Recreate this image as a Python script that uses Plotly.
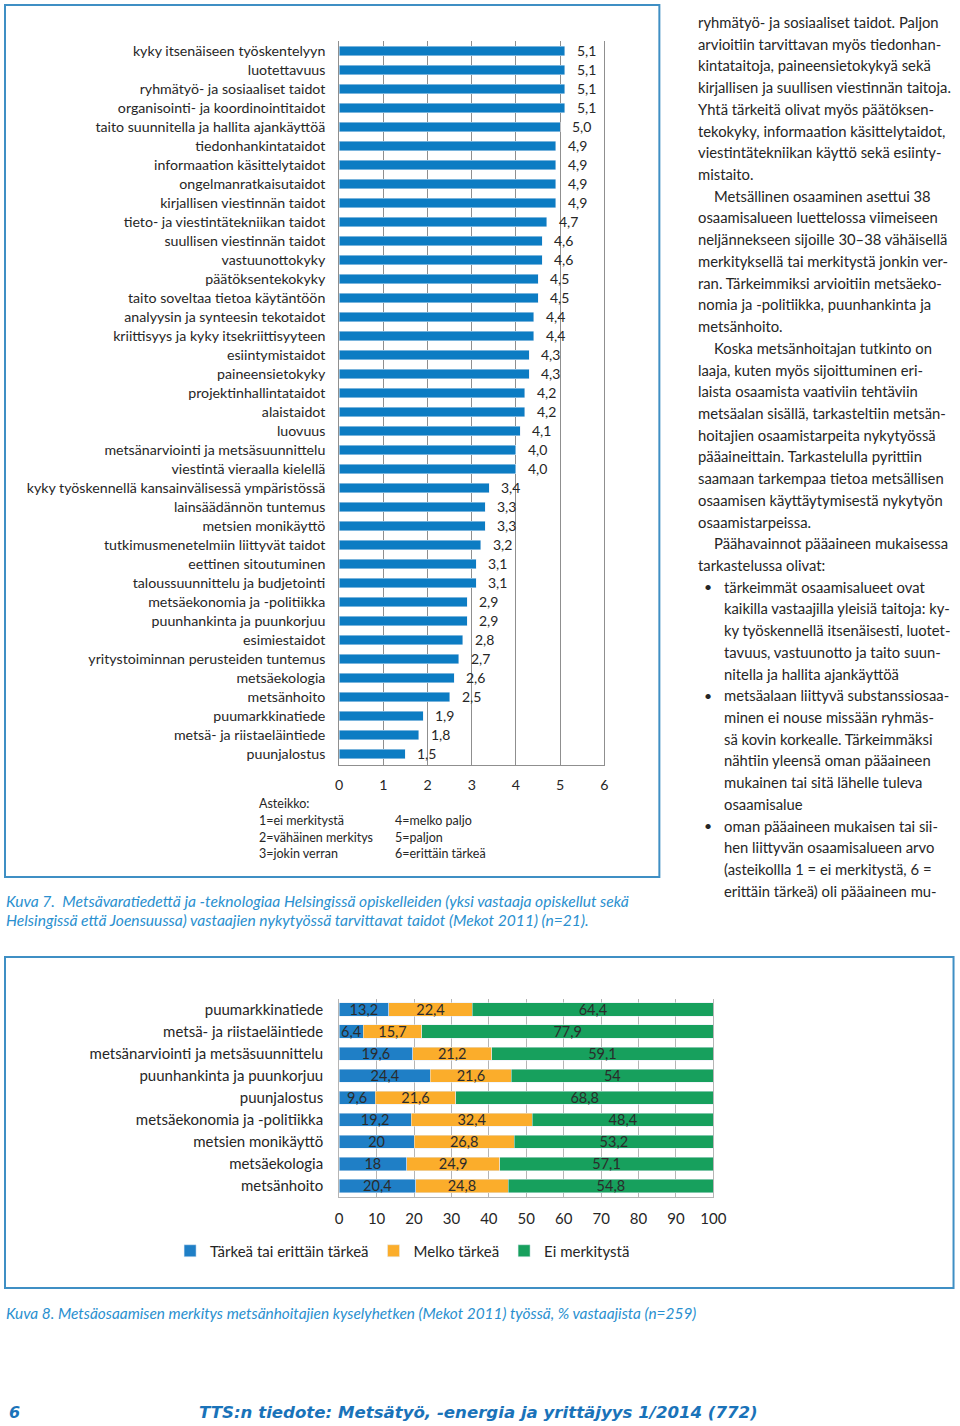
import plotly.graph_objects as go

# Page geometry: body margin removed in post_script; the capture maps page x
# as 0.982*x + 4, so positions measured on the reference are converted back.
SX, OX = 0.982, 4.0
W, H = 974, 1426
def fx(px):
    return min(max((px - OX) / SX / W, 0.0), 1.0)
def fy(py):
    return min(max(1 - py / H, 0.0), 1.0)

# ---------------- data: Kuva 7 ----------------
skills = [
    "kyky itsenäiseen työskentelyyn", "luotettavuus", "ryhmätyö- ja sosiaaliset taidot",
    "organisointi- ja koordinointitaidot", "taito suunnitella ja hallita ajankäyttöä",
    "tiedonhankintataidot", "informaation käsittelytaidot", "ongelmanratkaisutaidot",
    "kirjallisen viestinnän taidot", "tieto- ja viestintätekniikan taidot",
    "suullisen viestinnän taidot", "vastuunottokyky", "päätöksentekokyky",
    "taito soveltaa tietoa käytäntöön", "analyysin ja synteesin tekotaidot",
    "kriittisyys ja kyky itsekriittisyyteen", "esiintymistaidot", "paineensietokyky",
    "projektinhallintataidot", "alaistaidot", "luovuus",
    "metsänarviointi ja metsäsuunnittelu", "viestintä vieraalla kielellä",
    "kyky työskennellä kansainvälisessä ympäristössä", "lainsäädännön tuntemus",
    "metsien monikäyttö", "tutkimusmenetelmiin liittyvät taidot", "eettinen sitoutuminen",
    "taloussuunnittelu ja budjetointi", "metsäekonomia ja -politiikka",
    "puunhankinta ja puunkorjuu", "esimiestaidot", "yritystoiminnan perusteiden tuntemus",
    "metsäekologia", "metsänhoito", "puumarkkinatiede", "metsä- ja riistaeläintiede",
    "puunjalostus",
]
skill_values = [5.1, 5.1, 5.1, 5.1, 5.0, 4.9, 4.9, 4.9, 4.9, 4.7, 4.6, 4.6, 4.5, 4.5,
                4.4, 4.4, 4.3, 4.3, 4.2, 4.2, 4.1, 4.0, 4.0, 3.4, 3.3, 3.3, 3.2, 3.1,
                3.1, 2.9, 2.9, 2.8, 2.7, 2.6, 2.5, 1.9, 1.8, 1.5]
top_ticks = [0, 1, 2, 3, 4, 5, 6]

# ---------------- data: Kuva 8 ----------------
areas = ["puumarkkinatiede", "metsä- ja riistaeläintiede", "metsänarviointi ja metsäsuunnittelu",
         "puunhankinta ja puunkorjuu", "puunjalostus", "metsäekonomia ja -politiikka",
         "metsien monikäyttö", "metsäekologia", "metsänhoito"]
important = [13.2, 6.4, 19.6, 24.4, 9.6, 19.2, 20, 18, 20.4]
fairly = [22.4, 15.7, 21.2, 21.6, 21.6, 32.4, 26.8, 24.9, 24.8]
none_ = [64.4, 77.9, 59.1, 54, 68.8, 48.4, 53.2, 57.1, 54.8]
series_names = ["Tärkeä tai erittäin tärkeä", "Melko tärkeä", "Ei merkitystä"]
bottom_ticks = [0, 10, 20, 30, 40, 50, 60, 70, 80, 90, 100]

scale_left = ["1=ei merkitystä", "2=vähäinen merkitys", "3=jokin verran"]
scale_right = ["4=melko paljo", "5=paljon", "6=erittäin tärkeä"]

body_lines = [
    (0, "ryhmätyö- ja sosiaaliset taidot. Paljon"),
    (0, "arvioitiin tarvittavan myös tiedonhan-"),
    (0, "kintataitoja, paineensietokykyä sekä"),
    (0, "kirjallisen ja suullisen viestinnän taitoja."),
    (0, "Yhtä tärkeitä olivat myös päätöksen-"),
    (0, "tekokyky, informaation käsittelytaidot,"),
    (0, "viestintätekniikan käyttö sekä esiinty-"),
    (0, "mistaito."),
    (1, "Metsällinen osaaminen asettui 38"),
    (0, "osaamisalueen luettelossa viimeiseen"),
    (0, "neljännekseen sijoille 30–38 vähäisellä"),
    (0, "merkityksellä tai merkitystä jonkin ver-"),
    (0, "ran. Tärkeimmiksi arvioitiin metsäeko-"),
    (0, "nomia ja -politiikka, puunhankinta ja"),
    (0, "metsänhoito."),
    (1, "Koska metsänhoitajan tutkinto on"),
    (0, "laaja, kuten myös sijoittuminen eri-"),
    (0, "laista osaamista vaativiin tehtäviin"),
    (0, "metsäalan sisällä, tarkasteltiin metsän-"),
    (0, "hoitajien osaamistarpeita nykytyössä"),
    (0, "pääaineittain. Tarkastelulla pyrittiin"),
    (0, "saamaan tarkempaa tietoa metsällisen"),
    (0, "osaamisen käyttäytymisestä nykytyön"),
    (0, "osaamistarpeissa."),
    (1, "Päähavainnot pääaineen mukaisessa"),
    (0, "tarkastelussa olivat:"),
    (3, "tärkeimmät osaamisalueet ovat"),
    (2, "kaikilla vastaajilla yleisiä taitoja: ky-"),
    (2, "ky työskennellä itsenäisesti, luotet-"),
    (2, "tavuus, vastuunotto ja taito suun-"),
    (2, "nitella ja hallita ajankäyttöä"),
    (3, "metsäalaan liittyvä substanssiosaa-"),
    (2, "minen ei nouse missään ryhmäs-"),
    (2, "sä kovin korkealle. Tärkeimmäksi"),
    (2, "nähtiin yleensä oman pääaineen"),
    (2, "mukainen tai sitä lähelle tuleva"),
    (2, "osaamisalue"),
    (3, "oman pääaineen mukaisen tai sii-"),
    (2, "hen liittyvän osaamisalueen arvo"),
    (2, "(asteikollla 1 = ei merkitystä, 6 ="),
    (2, "erittäin tärkeä) oli pääaineen mu-"),
]

caption7 = ["Kuva 7.  Metsävaratiedettä ja -teknologiaa Helsingissä opiskelleiden (yksi vastaaja opiskellut sekä",
            "Helsingissä että Joensuussa) vastaajien nykytyössä tarvittavat taidot (Mekot 2011) (n=21)."]
caption8 = "Kuva 8. Metsäosaamisen merkitys metsänhoitajien kyselyhetken (Mekot 2011) työssä, % vastaajista (n=259)"
footer = "TTS:n tiedote: Metsätyö, -energia ja yrittäjyys 1/2014 (772)"

# ---------------- styling ----------------
FONT = "Lato"
TXT = "#262626"
BLUE = "#0c7cc3"
C_BLUE = "#1f7fc6"
C_ORANGE = "#fbad2b"
C_GREEN = "#17a05d"
CAP = "#2a90cf"
FRAME = "#3f8fc4"

def fmt1(v):
    return f"{v:.1f}".replace(".", ",")

def fmtg(v):
    return f"{v:g}".replace(".", ",")

fig = go.Figure()

fig.add_trace(go.Bar(
    y=skills, x=skill_values, orientation="h", marker_color=BLUE, width=0.48,
    showlegend=False, xaxis="x", yaxis="y", hoverinfo="skip",
))

for name, vals, col in zip(series_names, [important, fairly, none_], [C_BLUE, C_ORANGE, C_GREEN]):
    fig.add_trace(go.Bar(
        y=areas, x=vals, orientation="h", name=name, marker_color=col, width=0.6,
        text=[fmtg(v) for v in vals], textposition="inside", insidetextanchor="middle",
        textangle=0, constraintext="none",
        textfont=dict(family=FONT, size=14.5, color="#2b2b2b"),
        xaxis="x2", yaxis="y2", hoverinfo="skip",
    ))

annotations = []
# value labels for Kuva 7
for cat, v in zip(skills, skill_values):
    annotations.append(dict(x=v, y=cat, xref="x", yref="y", text=fmt1(v), showarrow=False,
                            xanchor="left", yanchor="middle", xshift=10,
                            font=dict(family=FONT, size=14, color=TXT)))

# scale legend
annotations.append(dict(x=fx(257), y=fy(803), xref="paper", yref="paper", text="Asteikko:",
                        showarrow=False, xanchor="left", yanchor="middle",
                        font=dict(family=FONT, size=12.5, color=TXT)))
for i, (a, b) in enumerate(zip(scale_left, scale_right)):
    yy = fy(820 + i * 17)
    annotations.append(dict(x=fx(257), y=yy, xref="paper", yref="paper", text=a, showarrow=False,
                            xanchor="left", yanchor="middle", font=dict(family=FONT, size=12.5, color=TXT)))
    annotations.append(dict(x=fx(393), y=yy, xref="paper", yref="paper", text=b, showarrow=False,
                            xanchor="left", yanchor="middle", font=dict(family=FONT, size=12.5, color=TXT)))

# captions
for i, line in enumerate(caption7):
    annotations.append(dict(x=fx(4), y=fy(901 + i * 19), xref="paper", yref="paper", text=line,
                            showarrow=False, xanchor="left", yanchor="middle",
                            font=dict(family=FONT, size=15.6, color=CAP, style="italic")))
annotations.append(dict(x=fx(4), y=fy(1313), xref="paper", yref="paper", text=caption8,
                        showarrow=False, xanchor="left", yanchor="middle",
                        font=dict(family=FONT, size=15.4, color=CAP, style="italic")))

# body text column
indent_x = {0: 696, 1: 712, 2: 722, 3: 722}
for i, (kind, line) in enumerate(body_lines):
    yy = fy(22 + i * 21.72)
    annotations.append(dict(x=fx(indent_x[kind]), y=yy, xref="paper", yref="paper", text=line,
                            showarrow=False, xanchor="left", yanchor="middle",
                            font=dict(family=FONT, size=14.8, color=TXT)))
    if kind == 3:
        annotations.append(dict(x=fx(708), y=yy, xref="paper", yref="paper", text="•",
                                showarrow=False, xanchor="center", yanchor="middle",
                                font=dict(family=FONT, size=14, color=TXT)))

# footer
annotations.append(dict(x=fx(14), y=fy(1412), xref="paper", yref="paper", text="6", showarrow=False,
                        xanchor="center", yanchor="middle",
                        font=dict(family="DejaVu Sans", size=16, color="#1a73b9", weight="bold", style="italic")))
annotations.append(dict(x=fx(478), y=fy(1412), xref="paper", yref="paper", text=footer, showarrow=False,
                        xanchor="center", yanchor="middle",
                        font=dict(family="DejaVu Sans", size=16.6, color="#1a73b9", weight="bold", style="italic")))

shapes = [
    dict(type="rect", xref="paper", yref="paper", x0=fx(5), x1=fx(659), y0=fy(877), y1=fy(5),
         line=dict(color=FRAME, width=2), fillcolor="rgba(0,0,0,0)", layer="below"),
    dict(type="rect", xref="paper", yref="paper", x0=fx(5), x1=fx(953), y0=fy(1288), y1=fy(957),
         line=dict(color=FRAME, width=2), fillcolor="rgba(0,0,0,0)", layer="below"),
]

top_font = dict(family=FONT, size=14.2, color=TXT)
bot_font = dict(family=FONT, size=15, color=TXT)

fig.update_layout(
    width=W, height=H, autosize=False, margin=dict(l=0, r=0, t=0, b=0),
    paper_bgcolor="white", plot_bgcolor="white",
    barmode="stack",
    font=dict(family=FONT, color=TXT),
    xaxis=dict(domain=[fx(339), fx(604)], range=[0, 6], tickvals=top_ticks,
               showgrid=True, gridcolor="#8f8f8f", gridwidth=1, zeroline=False,
               showline=True, linecolor="#8f8f8f", linewidth=1, ticks="",
               tickfont=top_font, ticklabelstandoff=7, anchor="y", fixedrange=True),
    yaxis=dict(domain=[fy(764.5), fy(40.5)], autorange="reversed", type="category",
               categoryorder="array", categoryarray=skills,
               showgrid=False, zeroline=False, showline=True, mirror=True,
               linecolor="#8f8f8f", linewidth=1, ticks="", tickfont=top_font,
               ticklabelstandoff=10, anchor="x", fixedrange=True),
    xaxis2=dict(domain=[fx(339), fx(713)], range=[0, 100], tickvals=bottom_ticks,
                showgrid=True, gridcolor="#b5b5b5", gridwidth=1, zeroline=False,
                showline=True, linecolor="#b5b5b5", linewidth=1, ticks="",
                tickfont=bot_font, ticklabelstandoff=8, anchor="y2", fixedrange=True),
    yaxis2=dict(domain=[fy(1197), fy(998.5)], autorange="reversed", type="category",
                categoryorder="array", categoryarray=areas,
                showgrid=False, zeroline=False, showline=True, mirror=True,
                linecolor="#b5b5b5", linewidth=1, ticks="", tickfont=bot_font,
                ticklabelstandoff=12, anchor="x2", fixedrange=True),
    legend=dict(orientation="h", x=fx(170), y=fy(1251), xanchor="left", yanchor="middle",
                font=dict(family=FONT, size=15, color=TXT), itemwidth=30,
                bgcolor="rgba(0,0,0,0)", traceorder="normal"),
    annotations=annotations,
    shapes=shapes,
)

fig.write_html(
    "out.html",
    config={"displayModeBar": False, "responsive": False},
    post_script=(
        "document.body.style.margin='0';document.body.style.overflow='hidden';"
        "document.documentElement.style.overflow='hidden';"
    ),
)
